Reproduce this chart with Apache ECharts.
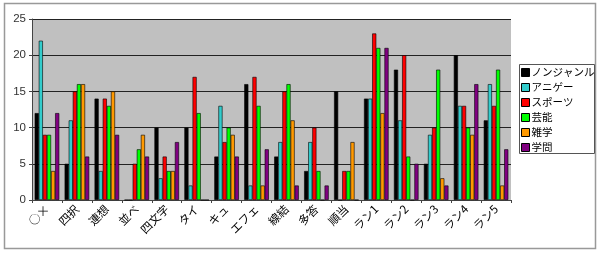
<!DOCTYPE html>
<html><head><meta charset="utf-8">
<script src="https://cdn.jsdelivr.net/npm/echarts@6/dist/echarts.min.js"></script>
<style>html,body{margin:0;padding:0;background:#fff}#c{width:600px;height:253px}</style>
</head><body><div id="c"></div>
<script>
var categories = ['○×','四択','連想','並べ','四文字','タイ','キュ','エフェ','線結','多答','順当','ラン1','ラン2','ラン3','ラン4','ラン5'];
var seriesNames = ['ノンジャンル','アニゲー','スポーツ','芸能','雑学','学問'];
var nonGenre = [12,5,14,0,10,10,6,16,6,4,15,14,18,5,20,11];
var anige    = [22,11,4,0,3,2,13,2,8,8,0,14,11,9,13,16];
var sports   = [9,15,14,5,6,17,8,17,15,10,4,23,20,10,13,13];
var geinou   = [9,16,13,7,4,12,10,13,16,4,4,21,6,18,10,18];
var zatsugaku= [4,16,15,9,4,0,9,2,11,0,8,12,0,3,9,2];
var gakumon  = [12,6,9,6,8,0,6,7,2,2,0,21,5,2,16,7];
var colors = ['#000000','#33CCCC','#FF0000','#00FF00','#FF9900','#800080'];
var allData = [nonGenre, anige, sports, geinou, zatsugaku, gakumon];
var font = '"Noto Sans CJK JP", sans-serif';
var chart = echarts.init(document.getElementById('c'));
chart.setOption({
  animation: false,
  graphic: [
    {type:'rect', shape:{x:4.5,y:3.5,width:591,height:245}, style:{fill:'none', stroke:'#999', lineWidth:1.5}, z:-1},
    {type:'rect', shape:{x:519.5,y:64.5,width:75,height:89}, style:{fill:'#fff', stroke:'#555', lineWidth:1}, z:-1}
  ],
  grid: {left:32, right:89, top:19, bottom:53, show:true, backgroundColor:'#C0C0C0', borderWidth:0},
  legend: {
    orient:'vertical', left:521, top:66,
    padding:0, itemGap:2, itemWidth:8, itemHeight:8,
    textStyle:{fontFamily:font, fontSize:10.5, lineHeight:13, color:'#000', padding:[0,0,0,-3]},
    icon:'rect',
    data: seriesNames.map(function(n,i){return {name:n, itemStyle:{borderColor:'#000', borderWidth:1}};})
  },
  xAxis: {
    type:'category', data:categories,
    axisLine:{lineStyle:{color:'#444'}},
    axisTick:{show:true, length:3, lineStyle:{color:'#444'}},
    axisLabel:{rotate:45, fontFamily:font, fontSize:11.5, color:'#000', margin:7, interval:0}
  },
  yAxis: {
    type:'value', min:0, max:25, interval:5,
    axisLine:{show:true, lineStyle:{color:'#444'}},
    axisTick:{show:true, length:3, lineStyle:{color:'#444'}},
    splitLine:{lineStyle:{color:'#222', width:1}},
    axisLabel:{fontFamily:'Arial, "Liberation Sans", sans-serif', fontSize:11.5, color:'#333', margin:6}
  },
  series: seriesNames.map(function(n,i){
    return {name:n, type:'bar', data:allData[i], barGap:'0%', barCategoryGap:'18%',
      itemStyle:{color:colors[i], borderColor:'#000', borderWidth:0.6}};
  })
});
</script></body></html>
